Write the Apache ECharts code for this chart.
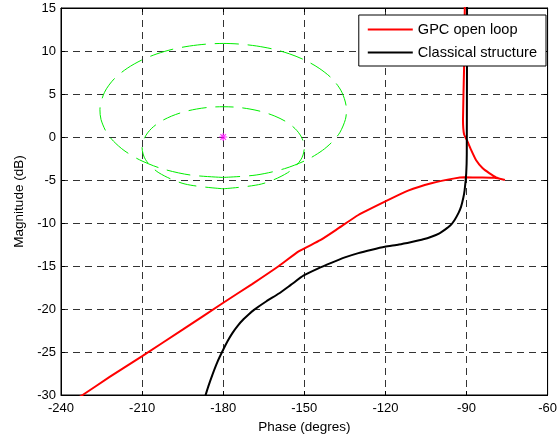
<!DOCTYPE html>
<html>
<head>
<meta charset="utf-8">
<script src="https://cdn.jsdelivr.net/npm/echarts@6/dist/echarts.min.js"></script>
<style>
html,body{margin:0;padding:0;background:#fff;}
#chart{width:560px;height:442px;}
</style>
</head>
<body>
<div id="chart"></div>
<script>
// ---- data ----
const gpcPhase = [-90.6, -90.9, -91.3, -90.9, -89.8, -88.3, -86.5, -84.0, -81.6, -79.1, -75.8, -79.7, -84.6, -90.8, -94.4, -103.0, -111.6, -120.2, -130.0, -137.3, -144.1, -152.1, -159.4, -169.3, -180.1, -195.0, -210.1, -222.0, -232.0, -233.0];
const gpcMag   = [16, 8, 2, 0.3, -0.4, -1.5, -2.67, -3.64, -4.2, -4.69, -5.0, -4.75, -4.71, -4.69, -4.81, -5.38, -6.24, -7.52, -9.07, -10.6, -12.0, -13.3, -15.0, -17.1, -19.3, -22.4, -25.5, -27.9, -30.0, -30.2];

const classicalPhase = [-186.8, -185.5, -184.0, -182.2, -180.1, -178.3, -176.6, -174.5, -172.5, -170.5, -168.6, -164.0, -159.4, -155.0, -150.2, -145.0, -139.8, -135.0, -130.0, -125.0, -120.2, -115.0, -110.3, -106.0, -103.0, -100.0, -98.1, -96.0, -94.4, -92.9, -92.0, -91.2, -90.7, -90.1, -89.9, -89.8];
const classicalMag   = [-30.3, -29.0, -27.65, -26.2, -24.8, -23.7, -22.8, -21.9, -21.2, -20.6, -20.1, -19.1, -18.2, -17.2, -16.1, -15.3, -14.6, -14.0, -13.5, -13.1, -12.76, -12.5, -12.2, -11.9, -11.6, -11.2, -10.8, -10.3, -9.65, -8.8, -8.1, -7.1, -6.2, -4.2, -2.0, 16];

// outer green contour (around the critical point)
const outerPhase = [-180, -192.2, -202.7, -210.9, -216.7, -220.6, -223.2, -225.2, -225.6, -223.9, -220.3, -215.5, -210.2, -204.5, -198.6, -192.4, -186.2, -180,
                    -173.8, -167.6, -161.4, -155.5, -149.8, -144.5, -139.7, -136.1, -134.4, -134.8, -136.8, -139.4, -143.3, -149.1, -157.3, -167.8, -180];
const outerMag   = [-4.7, -4.42, -3.68, -2.66, -1.56, -0.48, 0.55, 2.04, 3.18, 5.2, 6.77, 7.99, 8.94, 9.67, 10.21, 10.58, 10.8, 10.88,
                    10.8, 10.58, 10.21, 9.67, 8.94, 7.99, 6.77, 5.2, 3.18, 2.04, 0.55, -0.48, -1.56, -2.66, -3.68, -4.42, -4.7];

// inner green contour
const innerPhase = [-180, -194.1, -203.8, -208.7, -210, -209, -206.6, -203.2, -199.1, -194.6, -189.9, -185, -180,
                    -175, -170.1, -165.4, -160.9, -156.8, -153.4, -151, -150, -151.3, -156.2, -165.9, -180];
const innerMag   = [-6.02, -5.47, -4.16, -2.65, -1.25, -0.04, 0.97, 1.79, 2.43, 2.92, 3.25, 3.46, 3.52,
                    3.46, 3.25, 2.92, 2.43, 1.79, 0.97, -0.04, -1.25, -2.65, -4.16, -5.47, -6.02];

const criticalPoint = [-180, 0];

const seriesNames = ['GPC open loop', 'Classical structure'];
const xTicks = {min: -240, max: -60, step: 30};
const yTicks = {min: -30, max: 15, step: 5};

function zip(a, b) { return a.map((v, i) => [v, b[i]]); }

const FONT = 'Arial, "Liberation Sans", Helvetica, sans-serif';
const gridLine = {show: true, lineStyle: {color: '#333', width: 1, type: [7, 5]}};
const tick = {show: true, inside: true, length: 4, lineStyle: {color: '#000'}};

const chart = echarts.init(document.getElementById('chart'), null, {renderer: 'canvas'});
chart.setOption({
  animation: false,
  backgroundColor: '#fff',
  grid: {left: 61, right: 10, top: 8, bottom: 47, show: true, borderColor: '#000', borderWidth: 1, containLabel: false},
  legend: {
    data: seriesNames,
    orient: 'vertical',
    right: 14, top: 15,
    backgroundColor: '#fff',
    borderColor: '#000', borderWidth: 1,
    padding: [7, 9, 6, 9],
    itemGap: 8,
    itemWidth: 45, itemHeight: 2,
    icon: 'rect',
    selectedMode: false,
    textStyle: {fontFamily: FONT, fontSize: 14.6, color: '#000', lineHeight: 14}
  },
  xAxis: [{
    type: 'value', min: xTicks.min, max: xTicks.max, interval: xTicks.step,
    name: 'Phase (degres)', nameLocation: 'middle', nameGap: 24,
    nameTextStyle: {fontFamily: FONT, fontSize: 13.5, color: '#000'},
    axisLine: {show: true, onZero: false, lineStyle: {color: '#000', width: 1}},
    axisTick: tick,
    axisLabel: {fontFamily: FONT, fontSize: 13, color: '#000', margin: 7},
    splitLine: gridLine
  }, {
    type: 'value', min: xTicks.min, max: xTicks.max, interval: xTicks.step, position: 'top',
    axisLine: {show: true, onZero: false, lineStyle: {color: '#000'}},
    axisTick: tick,
    axisLabel: {show: false}, splitLine: {show: false}
  }],
  yAxis: [{
    type: 'value', min: yTicks.min, max: yTicks.max, interval: yTicks.step,
    name: 'Magnitude (dB)', nameLocation: 'middle', nameGap: 35,
    nameTextStyle: {fontFamily: FONT, fontSize: 13.5, color: '#000'},
    axisLine: {show: true, onZero: false, lineStyle: {color: '#000', width: 1}},
    axisTick: tick,
    axisLabel: {fontFamily: FONT, fontSize: 13, color: '#000', margin: 5},
    splitLine: gridLine
  }, {
    type: 'value', min: yTicks.min, max: yTicks.max, interval: yTicks.step, position: 'right',
    axisLine: {show: true, onZero: false, lineStyle: {color: '#000'}},
    axisTick: tick,
    axisLabel: {show: false}, splitLine: {show: false}
  }],
  series: [
    {
      name: 'outer', type: 'line', data: zip(outerPhase, outerMag), showSymbol: false, smooth: 0.3,
      lineStyle: {color: '#00ee00', width: 1, type: [24, 9]}, silent: true, z: 2
    },
    {
      name: 'inner', type: 'line', data: zip(innerPhase, innerMag), showSymbol: false, smooth: 0.3,
      lineStyle: {color: '#00ee00', width: 1, type: [18, 9]}, silent: true, z: 2
    },
    {
      name: 'critical', type: 'scatter', data: [criticalPoint],
      symbol: 'path://M5,0L5,10M0,5L10,5M1.5,1.5L8.5,8.5M1.5,8.5L8.5,1.5', symbolSize: 8,
      itemStyle: {color: 'none', borderColor: '#ff00ff', borderWidth: 1.2}, silent: true, z: 4
    },
    {
      name: seriesNames[0], type: 'line', data: zip(gpcPhase, gpcMag), showSymbol: false, smooth: 0.15,
      lineStyle: {color: '#ff0000', width: 2}, itemStyle: {color: '#ff0000'}, z: 3
    },
    {
      name: seriesNames[1], type: 'line', data: zip(classicalPhase, classicalMag), showSymbol: false,
      smooth: 0.2,
      lineStyle: {color: '#000000', width: 2}, itemStyle: {color: '#000000'}, z: 3
    }
  ]
});
</script>
</body>
</html>
